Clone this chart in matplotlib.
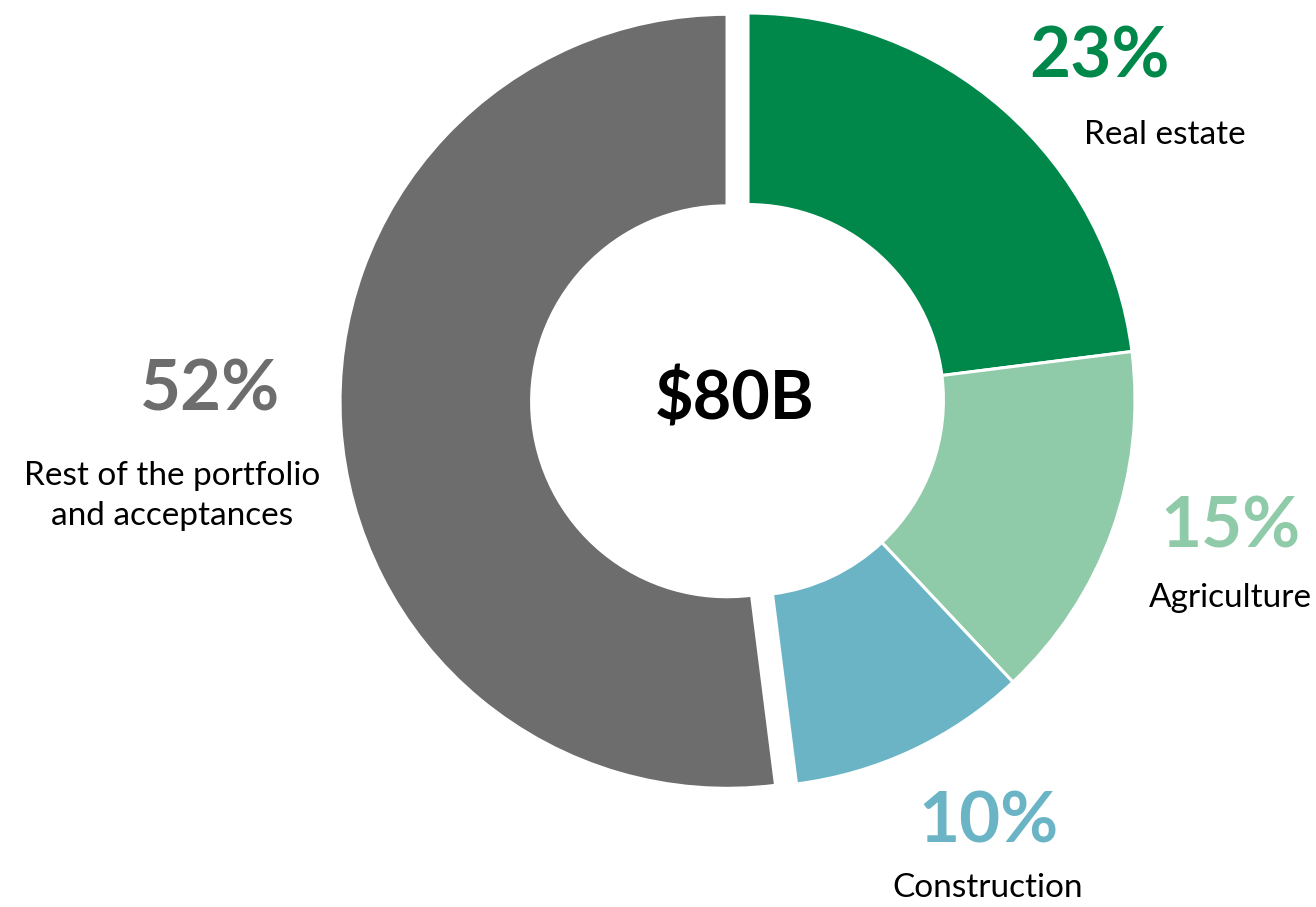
import matplotlib.pyplot as plt

plt.rcParams['font.family'] = ['Lato', 'DejaVu Sans']

# data
labels = ['Real estate', 'Agriculture', 'Construction', 'Rest of the portfolio\nand acceptances']
shares = [23, 15, 10, 52]
colors = ['#00884B', '#8FCAA9', '#6AB4C5', '#6D6D6D']
total = '$80B'

W, H = 1316, 907
fig = plt.figure(figsize=(W / 100, H / 100), dpi=100)
ax = fig.add_axes([0, 0, 1, 1])

cx, cy, R = 748, H - 400, 387
# explode is in data units here (pixels), since radius != 1
ax.pie(shares, colors=colors, startangle=90, counterclock=False,
       center=(cx, cy), radius=R, explode=[0, 0, 0, 21],
       wedgeprops=dict(width=R * 0.495, edgecolor='white', linewidth=2.2),
       frame=True)
ax.set_xlim(0, W)
ax.set_ylim(0, H)
ax.set_aspect('equal')
ax.set_axis_off()

ax.text(735, H - 400, total, ha='center', va='center', fontsize=48, fontweight='bold', color='black')

# label positions in pixels (x, y of percent, y of name)
pct_pos = [(1099, 57), (1230, 527), (988, 822), (210, 390)]
name_pos = [(1165, 135), (1230, 598), (988, 888), (172, 496)]
for lab, s, c, (px, py), (nx, ny) in zip(labels, shares, colors, pct_pos, name_pos):
    ax.text(px, H - py, f'{s}%', ha='center', va='center', fontsize=51, fontweight='bold', color=c)
    ax.text(nx, H - ny, lab, ha='center', va='center', fontsize=24, color='black',
            linespacing=1.45)

fig.savefig('out.png', dpi=100)
